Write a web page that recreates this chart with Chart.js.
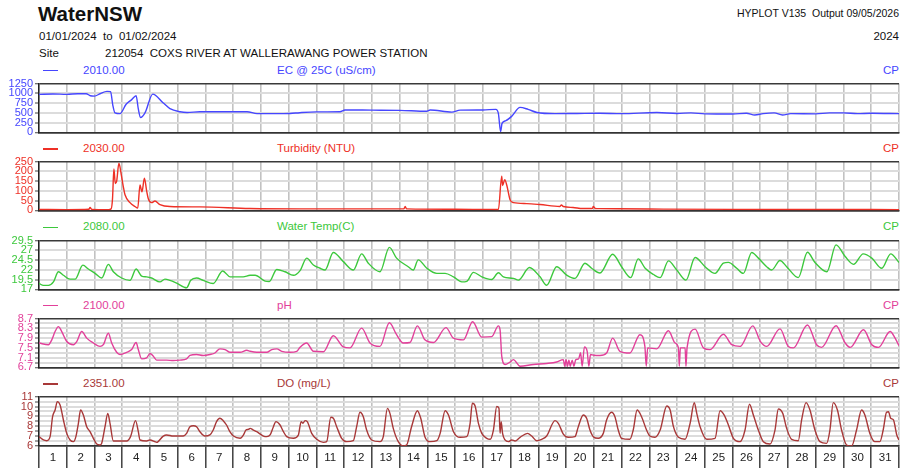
<!DOCTYPE html>
<html>
<head>
<meta charset="utf-8">
<script src="https://cdn.jsdelivr.net/npm/chart.js@4/dist/chart.umd.min.js"></script>
<style>
body { margin: 0; background: #fff; }
#page { position: relative; width: 901px; height: 468px; overflow: hidden; font-family: "Liberation Sans", Arial, sans-serif; color: #111; }
.t { position: absolute; white-space: nowrap; line-height: 1; }
.dash { position: absolute; height: 1.5px; width: 15px; }
canvas { position: absolute; left: 0; }
</style>
</head>
<body>
<div id="page">
  <div class="t" style="left:38px;top:4px;font-size:20.5px;font-weight:bold;">WaterNSW</div>
  <div class="t" style="left:39px;top:31px;font-size:11.5px;">01/01/2024&nbsp; to&nbsp; 01/02/2024</div>
  <div class="t" style="left:39px;top:48px;font-size:11.5px;">Site</div>
  <div class="t" style="left:105px;top:48px;font-size:11.5px;">212054&nbsp; COXS RIVER AT WALLERAWANG POWER STATION</div>
  <div class="t" style="right:2px;top:8px;font-size:10.5px;">HYPLOT V135&nbsp; Output 09/05/2026</div>
  <div class="t" style="right:2px;top:31px;font-size:11.5px;">2024</div>
</div>
<script>
// EC @ 25C (uS/cm)
const ecDays = [0, 0.5, 1.0, 1.4, 1.7, 1.85, 2.0, 2.2, 2.45, 2.58, 2.66, 2.74, 2.92, 3.14, 3.34, 3.5, 3.58, 3.66, 3.82, 4.1,
  4.47, 4.72, 5.08, 5.34, 5.8, 6.5, 7.5, 7.86, 8.5, 9.05, 9.4, 10.0, 10.85, 11.03, 12.0, 13.0, 13.97, 14.1, 14.88, 15.18,
  16.0, 16.47, 16.56, 16.64, 16.69, 16.83, 17.05, 17.34, 17.63, 17.95, 18.6, 19.4, 20.2, 21.0, 22.27, 23.0, 23.5, 24.0, 25.0, 25.5,
  25.8, 26.1, 26.5, 26.8, 27.1, 28.0, 28.5, 29.0, 29.5, 30.0, 31.0];
const ecVals = [975, 985, 975, 990, 990, 940, 930, 990, 1050, 1045, 700, 500, 480, 720, 840, 940, 600, 380, 500, 980,
  760, 610, 530, 510, 530, 530, 530, 480, 480, 485, 505, 525, 530, 575, 570, 565, 540, 575, 520, 570,
  575, 590, 480, 20, 230, 300, 420, 640, 590, 510, 480, 485, 490, 480, 510, 485, 500, 475, 470, 490,
  445, 480, 500, 445, 480, 475, 500, 500, 480, 490, 480];

// Turbidity (NTU)
const tuDays = [0, 1.0, 1.8, 1.84, 1.9, 2.5, 2.6, 2.65, 2.7, 2.75, 2.8, 2.88, 2.97, 3.04, 3.1, 3.28, 3.46, 3.56, 3.64, 3.71,
  3.8, 3.88, 3.94, 4.06, 4.18, 4.36, 4.72, 5.8, 7.6, 9.4, 13.15, 13.2, 13.25, 15.0, 16.3, 16.56, 16.68, 16.71, 16.79, 16.86,
  16.98, 17.1, 17.58, 18.06, 18.78, 18.83, 18.9, 19.25, 19.6, 19.95, 19.98, 20.05, 20.2, 22.0, 25.0, 28.0, 31.0];
const tuVals = [5, 4, 6, 15, 5, 4, 8, 60, 212, 138, 150, 242, 180, 121, 80, 40, 20, 12, 130, 95,
  165, 100, 60, 40, 48, 30, 20, 18, 10, 8, 8, 20, 8, 6, 5, 5, 176, 128, 158, 130,
  55, 40, 35, 30, 20, 28, 20, 15, 10, 10, 20, 10, 9, 7, 5, 5, 4];

// Water Temp(C)
const wtDays = [0, 0.16, 0.34, 0.52, 0.70, 0.88, 1.12, 1.30, 1.58, 1.78, 2.02, 2.26, 2.50, 2.68, 2.98, 3.28, 3.50, 3.70, 3.88, 4.06,
  4.36, 4.54, 4.72, 4.96, 5.32, 5.47, 5.68, 5.92, 6.28, 6.62, 6.89, 7.36, 7.61, 7.79, 8.15, 8.30, 8.57, 8.87, 9.17, 9.41,
  9.65, 9.89, 10.13, 10.31, 10.61, 10.97, 11.33, 11.63, 11.87, 12.29, 12.63, 12.89, 13.31, 13.49, 13.67, 13.98, 14.34, 14.64, 14.94, 15.24,
  15.42, 15.66, 15.96, 16.32, 16.56, 16.74, 17.10, 17.28, 17.68, 18.06, 18.30, 18.66, 19.02, 19.32, 19.68, 19.92, 20.22, 20.68, 21.0, 21.33,
  21.6, 21.85, 22.15, 22.39, 22.69, 22.99, 23.32, 23.65, 24.01, 24.37, 24.67, 24.85, 25.15, 25.39, 25.69, 25.93, 26.23, 26.41, 26.71, 26.95,
  27.37, 27.70, 27.97, 28.4, 28.73, 29.06, 29.36, 29.71, 30.02, 30.38, 30.70, 31.0];
const wtVals = [18.5, 18.0, 18.0, 18.9, 21.5, 20.6, 19.6, 19.6, 23.2, 22.2, 21.1, 19.9, 23.4, 21.5, 19.9, 19.3, 22.2, 20.4, 20.2, 19.9,
  18.9, 19.6, 19.3, 18.6, 17.4, 19.3, 19.9, 19.3, 18.5, 21.7, 20.2, 20.2, 20.6, 20.6, 19.1, 19.0, 22.1, 21.5, 20.6, 21.8,
  25.0, 23.25, 22.4, 21.95, 26.45, 24.1, 21.95, 26.1, 23.7, 21.5, 27.75, 25.0, 22.8, 21.95, 24.55, 22.4, 21.1, 21.1, 20.2, 18.9,
  19.05, 21.35, 20.2, 19.5, 21.25, 20.2, 19.8, 19.35, 22.6, 20.2, 18.05, 22.8, 20.65, 19.8, 23.7, 22.4, 21.2, 26.0, 22.8, 20.0,
  24.8, 22.4, 20.8, 20.0, 24.3, 21.95, 19.35, 25.15, 22.8, 21.08, 23.7, 23.9, 22.4, 21.08, 26.45, 25.0, 22.8, 21.95, 24.4, 22.8,
  20.0, 26.5, 23.9, 21.5, 28.4, 25.4, 23.4, 26.1, 25.0, 22.4, 26.1, 23.9];

// pH
const phDays = [0, 0.34, 0.46, 0.58, 0.70, 0.82, 1.0, 1.24, 1.36, 1.54, 1.72, 1.96, 2.2, 2.32, 2.50, 2.62, 2.80, 2.92, 3.16, 3.34,
  3.50, 3.58, 3.70, 3.88, 4.0, 4.12, 4.24, 4.60, 4.84, 5.08, 5.32, 5.44, 5.68, 5.92, 6.16, 6.34, 6.52, 6.71, 6.89, 7.25,
  7.49, 7.61, 7.85, 8.21, 8.39, 8.57, 8.75, 9.05, 9.29, 9.41, 9.65, 9.89, 10.25, 10.61, 10.97, 11.21, 11.63, 11.93, 12.29, 12.63,
  12.89, 13.13, 13.37, 13.64, 13.91, 14.22, 14.67, 14.94, 15.30, 15.63, 15.96, 16.32, 16.56, 16.62, 16.68, 16.80, 16.98, 17.10, 17.34, 17.82,
  18.30, 18.66, 18.90, 18.95, 19.0, 19.05, 19.1, 19.15, 19.22, 19.28, 19.35, 19.45, 19.52, 19.58, 19.66, 19.76, 19.82, 19.88, 20.0, 20.22,
  20.46, 20.68, 20.94, 21.30, 21.66, 21.84, 21.89, 21.94, 22.27, 22.69, 22.93, 23.05, 23.08, 23.12, 23.29, 23.32, 23.36, 23.65, 23.95, 24.19,
  24.67, 24.97, 25.27, 25.73, 26.0, 26.23, 26.71, 27.01, 27.19, 27.70, 28.03, 28.21, 28.73, 29.06, 29.24, 29.72, 30.02, 30.26, 30.68, 30.86, 31.0];
const phVals = [7.70, 7.63, 7.83, 8.17, 8.37, 8.17, 7.76, 7.63, 7.76, 8.17, 7.90, 7.70, 7.56, 7.63, 8.10, 7.70, 7.32, 7.23, 7.32, 7.43,
  7.72, 7.43, 7.05, 7.09, 7.27, 7.16, 7.00, 7.00, 6.98, 7.00, 7.05, 7.19, 7.23, 7.19, 7.23, 7.29, 7.46, 7.43, 7.32, 7.32,
  7.40, 7.36, 7.32, 7.32, 7.43, 7.46, 7.36, 7.32, 7.36, 7.53, 7.70, 7.36, 7.34, 8.00, 7.54, 7.50, 8.31, 7.70, 7.56, 8.53,
  8.04, 7.70, 7.72, 8.40, 7.83, 7.72, 8.33, 7.90, 7.83, 8.57, 7.94, 7.96, 8.40, 8.24, 7.16, 6.82, 6.92, 7.02, 6.75, 6.82,
  6.86, 6.92, 7.02, 6.75, 7.02, 6.75, 7.00, 6.75, 7.00, 6.75, 7.02, 7.05, 7.30, 6.75, 7.54, 7.36, 6.75, 7.23, 7.20, 7.19,
  7.29, 7.90, 7.36, 7.29, 8.04, 7.56, 6.75, 7.50, 7.46, 8.20, 7.70, 7.50, 6.75, 7.50, 7.50, 6.75, 7.50, 8.27, 7.50, 7.43,
  8.06, 7.63, 7.56, 8.40, 7.77, 7.56, 8.28, 7.56, 7.50, 8.44, 7.63, 7.52, 8.41, 7.70, 7.52, 8.24, 7.63, 7.52, 8.17, 7.90, 7.59];

// DO (mg/L)
const doDays = [0, 0.16, 0.28, 0.40, 0.49, 0.58, 0.66, 0.76, 0.88, 1.0, 1.12, 1.24, 1.33, 1.42, 1.50, 1.60, 1.72, 1.84, 1.96, 2.08,
  2.20, 2.26, 2.38, 2.48, 2.56, 2.68, 2.92, 3.16, 3.30, 3.48, 3.58, 3.64, 3.88, 4.0, 4.18, 4.24, 4.48, 4.60, 4.84, 5.20,
  5.32, 5.44, 5.56, 5.68, 5.80, 5.98, 6.16, 6.28, 6.40, 6.52, 6.64, 6.76, 6.88, 7.01, 7.25, 7.37, 7.46, 7.55, 7.61, 7.73,
  7.85, 8.09, 8.21, 8.33, 8.45, 8.54, 8.69, 8.81, 8.93, 9.17, 9.35, 9.45, 9.51, 9.59, 9.67, 9.83, 10.01, 10.25, 10.37, 10.52,
  10.61, 10.73, 10.91, 11.09, 11.33, 11.45, 11.57, 11.69, 11.81, 11.99, 12.29, 12.41, 12.56, 12.65, 12.77, 12.95, 13.13, 13.25, 13.43, 13.64,
  13.76, 13.91, 14.09, 14.34, 14.46, 14.64, 14.76, 14.94, 15.18, 15.42, 15.54, 15.62, 15.72, 15.84, 15.96, 16.14, 16.26, 16.38, 16.50, 16.58,
  16.62, 16.66, 16.71, 16.80, 16.92, 17.04, 17.16, 17.34, 17.61, 17.76, 17.94, 18.12, 18.30, 18.60, 18.72, 18.90, 19.08, 19.32, 19.44, 19.62,
  19.74, 19.86, 19.98, 20.16, 20.34, 20.46, 20.64, 20.76, 20.88, 21.0, 21.30, 21.42, 21.56, 21.72, 21.90, 22.02, 22.20, 22.39, 22.63, 22.75,
  22.87, 23.05, 23.29, 23.47, 23.62, 23.71, 23.83, 24.07, 24.37, 24.55, 24.70, 24.85, 25.03, 25.27, 25.45, 25.61, 25.75, 25.93, 26.11, 26.35,
  26.53, 26.65, 26.81, 26.95, 27.13, 27.37, 27.49, 27.65, 27.79, 27.97, 28.15, 28.39, 28.51, 28.63, 28.78, 28.93, 29.11, 29.29, 29.47, 29.65,
  29.77, 29.95, 30.13, 30.31, 30.43, 30.55, 30.62, 30.70, 30.80, 30.92, 31.0];
const doVals = [6.95, 6.61, 6.54, 6.95, 8.97, 9.65, 10.5, 10.16, 8.64, 7.28, 6.61, 6.44, 6.95, 8.30, 9.65, 9.14, 7.96, 7.45, 6.78, 6.2,
  6.1, 6.27, 7.96, 9.31, 8.30, 6.51, 6.51, 6.51, 6.95, 8.57, 7.45, 6.61, 6.51, 6.61, 6.44, 6.37, 7.01, 7.12, 7.01, 7.01,
  7.28, 7.96, 8.06, 7.96, 7.45, 7.01, 7.12, 7.62, 8.47, 8.81, 8.57, 8.13, 7.45, 7.01, 6.78, 7.12, 7.62, 7.69, 7.79, 7.62,
  7.45, 7.01, 6.95, 7.12, 7.96, 8.47, 8.13, 7.45, 6.95, 6.78, 7.12, 8.47, 8.30, 8.57, 8.47, 7.28, 6.68, 6.37, 6.44, 8.91,
  8.81, 7.96, 6.78, 6.44, 6.54, 7.96, 9.42, 8.97, 7.62, 6.61, 6.44, 6.95, 9.82, 9.31, 7.79, 6.44, 6.0, 6.1, 7.96, 9.58,
  8.81, 6.95, 6.44, 6.54, 7.28, 9.58, 9.14, 7.45, 6.88, 6.95, 8.30, 10.33, 10.06, 8.30, 7.28, 6.78, 6.68, 7.62, 10.0, 9.82,
  7.28, 8.47, 7.28, 6.61, 6.44, 6.61, 6.51, 6.88, 7.28, 7.01, 6.54, 6.68, 7.01, 8.57, 8.30, 7.21, 6.88, 6.95, 7.96, 9.14,
  8.81, 7.62, 6.95, 6.78, 7.28, 8.64, 9.42, 8.97, 7.62, 6.78, 6.68, 7.62, 9.65, 8.97, 7.62, 7.01, 6.88, 7.62, 10.06, 9.65,
  7.96, 6.88, 6.68, 8.30, 10.4, 9.31, 7.96, 6.68, 6.78, 9.58, 9.14, 8.13, 6.78, 6.44, 7.62, 10.23, 9.14, 7.62, 6.44, 6.2,
  7.62, 9.75, 9.31, 7.79, 6.68, 6.54, 8.64, 10.4, 9.65, 7.62, 6.44, 6.27, 7.62, 10.4, 9.65, 7.62, 6.1, 6.0, 7.62, 9.65,
  9.14, 7.28, 6.44, 6.44, 7.62, 9.42, 9.48, 8.81, 8.64, 7.12, 6.6];

const dayCount = 31;

const panels = [
  { code: '2010.00', title: 'EC @ 25C (uS/cm)', color: '#4646ff', days: ecDays, vals: ecVals, min: 0, max: 1250, step: 250 },
  { code: '2030.00', title: 'Turbidity (NTU)', color: '#ee3026', days: tuDays, vals: tuVals, min: 0, max: 250, step: 50 },
  { code: '2080.00', title: 'Water Temp(C)', color: '#3cc83c', days: wtDays, vals: wtVals, min: 17, max: 29.5, step: 2.5 },
  { code: '2100.00', title: 'pH', color: '#e2409a', days: phDays, vals: phVals, min: 6.7, max: 8.7, step: 0.2,
    label: (v, i) => i % 2 === 0 ? v.toFixed(1) : '' },
  { code: '2351.00', title: 'DO (mg/L)', color: '#a83838', days: doDays, vals: doVals, min: 6, max: 11, step: 0.5,
    label: v => Number.isInteger(v) ? String(v) : '' }
];

const page = document.getElementById('page');
const FONT = '"Liberation Sans", Arial, sans-serif';

panels.forEach((p, i) => {
  const last = i === panels.length - 1;
  const areaTop = 83.3 + i * 78.35;
  const areaH = 49.3;
  const headC = areaTop - 13;

  // header row
  const dash = document.createElement('div');
  dash.className = 'dash';
  dash.style.cssText = `left:43px;top:${headC - 0.5}px;background:${p.color}`;
  page.appendChild(dash);
  [[83, p.code], [277, p.title]].forEach(([x, txt]) => {
    const d = document.createElement('div');
    d.className = 't';
    d.style.cssText = `left:${x}px;top:${headC - 5.6}px;font-size:11.5px;color:${p.color}`;
    d.textContent = txt;
    page.appendChild(d);
  });
  const cp = document.createElement('div');
  cp.className = 't';
  cp.style.cssText = `right:2px;top:${headC - 5.6}px;font-size:11.5px;color:${p.color}`;
  cp.textContent = 'CP';
  page.appendChild(cp);

  // canvas
  const top = Math.floor(areaTop) - 8;
  const h = last ? 468 - top : Math.ceil(areaH) + 16;
  const cv = document.createElement('canvas');
  cv.width = 901;
  cv.height = h;
  cv.style.top = top + 'px';
  page.appendChild(cv);

  const isEdge = v => Math.abs(v - p.min) < 1e-6 || Math.abs(v - p.max) < 1e-6;
  const xBottom = last ? 468 - (areaTop + areaH) : 0;

  new Chart(cv, {
    type: 'line',
    data: {
      datasets: [{
        data: p.days.map((d, k) => ({ x: d, y: p.vals[k] })),
        borderColor: p.color,
        borderWidth: 1.4,
        pointRadius: 0,
        cubicInterpolationMode: 'monotone',
        fill: false
      }]
    },
    options: {
      responsive: false,
      animation: false,
      devicePixelRatio: 1,
      layout: { padding: { top: areaTop - top, bottom: last ? 0 : (top + h) - (areaTop + areaH), left: 0, right: 2 } },
      plugins: { legend: { display: false }, tooltip: { enabled: false } },
      scales: {
        x: {
          type: 'linear',
          min: 0,
          max: dayCount,
          afterFit: s => { s.height = xBottom; },
          border: { color: '#333', width: 1.5 },
          grid: {
            color: '#c2c2c2',
            lineWidth: 1.6,
            drawTicks: last,
            tickLength: 22,
            tickColor: '#333',
            tickWidth: 1.4
          },
          ticks: {
            display: last,
            stepSize: 1,
            autoSkip: false,
            maxRotation: 0,
            labelOffset: 860 / dayCount / 2,
            padding: -17,
            color: '#222',
            font: { family: FONT, size: 11.5 },
            callback: v => v < dayCount ? String(v + 1) : ''
          }
        },
        y: {
          min: p.min,
          max: p.max,
          afterFit: s => { s.width = 39; },
          border: { color: '#222', width: 1.5 },
          grid: {
            color: c => (c.tick && isEdge(c.tick.value)) ? '#3a3a3a' : '#dcdcdc',
            lineWidth: c => (c.tick && isEdge(c.tick.value)) ? 1.5 : 2,
            tickLength: 4,
            tickColor: '#444',
            tickWidth: 1
          },
          ticks: {
            stepSize: p.step,
            autoSkip: false,
            padding: 2,
            color: p.color,
            font: { family: FONT, size: 11 },
            callback: p.label || (v => String(v))
          }
        }
      }
    }
  });
});
</script>
</body>
</html>
